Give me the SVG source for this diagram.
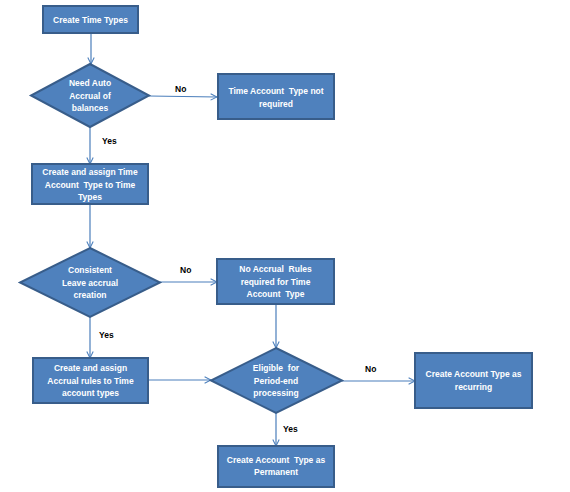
<svg xmlns="http://www.w3.org/2000/svg" width="570" height="492" viewBox="0 0 570 492" xml:space="preserve">
<defs>
<marker id="arr" viewBox="0 0 10 10" refX="9" refY="5" markerWidth="8" markerHeight="8" markerUnits="userSpaceOnUse" orient="auto">
<path d="M1,1 L9,5 L1,9" fill="none" stroke="#4A7EBB" stroke-width="1.3"/>
</marker>
<style>
.n{fill:#4F81BD;stroke:#385D8A;stroke-width:2}
.t{font-family:"Liberation Sans",Arial,sans-serif;font-size:8.5px;font-weight:bold;fill:#FFFFFF;text-anchor:middle;white-space:pre}
.l{font-family:"Liberation Sans",Arial,sans-serif;font-size:8.5px;font-weight:bold;fill:#000000}
.c{fill:none;stroke:#4A7EBB;stroke-width:1.2;marker-end:url(#arr)}
</style>
</defs>
<rect width="570" height="492" fill="#FFFFFF"/>
<g id="connectors">
<line class="c" x1="91" y1="33" x2="91" y2="64"/>
<line class="c" x1="149" y1="96" x2="217" y2="97"/>
<line class="c" x1="90" y1="127" x2="90" y2="164"/>
<line class="c" x1="90" y1="204" x2="90" y2="248"/>
<line class="c" x1="160" y1="282" x2="217" y2="282"/>
<line class="c" x1="276" y1="304" x2="276" y2="348"/>
<line class="c" x1="90" y1="317" x2="90" y2="358"/>
<line class="c" x1="148" y1="380" x2="211" y2="380"/>
<line class="c" x1="342" y1="381" x2="415" y2="381"/>
<line class="c" x1="276" y1="413" x2="276" y2="446"/>
<text class="l" x="175" y="92">No</text>
<text class="l" x="102" y="144">Yes</text>
<text class="l" x="180" y="273">No</text>
<text class="l" x="99" y="338">Yes</text>
<text class="l" x="365" y="372">No</text>
<text class="l" x="283" y="432">Yes</text>
</g>
<g id="n1">
<rect class="n" x="43" y="6" width="95" height="27"/>
<text class="t" x="90.5" y="22.5">Create Time Types</text>
</g>
<g id="n2">
<polygon class="n" points="90,64 149,95.5 90,127 31,95.5"/>
<text class="t" x="90" y="86">Need Auto</text>
<text class="t" x="90" y="99">Accrual of</text>
<text class="t" x="90" y="111">balances</text>
</g>
<g id="n3">
<rect class="n" x="218" y="74" width="116" height="45"/>
<text class="t" x="276" y="94">Time Account  Type not</text>
<text class="t" x="276" y="107">required</text>
</g>
<g id="n4">
<rect class="n" x="32" y="164" width="116" height="40"/>
<text class="t" x="90" y="175">Create and assign Time</text>
<text class="t" x="90" y="188">Account  Type to Time</text>
<text class="t" x="90" y="200">Types</text>
</g>
<g id="n5">
<polygon class="n" points="90,248 160,282.5 90,317 20,282.5"/>
<text class="t" x="90" y="273">Consistent</text>
<text class="t" x="90" y="286">Leave accrual</text>
<text class="t" x="90" y="298">creation</text>
</g>
<g id="n6">
<rect class="n" x="217" y="259" width="117" height="45"/>
<text class="t" x="275.5" y="272">No Accrual  Rules</text>
<text class="t" x="275.5" y="285">required for Time</text>
<text class="t" x="275.5" y="297">Account  Type</text>
</g>
<g id="n7">
<rect class="n" x="33" y="358" width="115" height="45"/>
<text class="t" x="90.5" y="371">Create and assign</text>
<text class="t" x="90.5" y="384">Accrual rules to Time</text>
<text class="t" x="90.5" y="396">account types</text>
</g>
<g id="n8">
<polygon class="n" points="276,348 342,380.5 276,413 211,380.5"/>
<text class="t" x="276" y="371">Eligible  for</text>
<text class="t" x="276" y="384">Period-end</text>
<text class="t" x="276" y="396">processing</text>
</g>
<g id="n9">
<rect class="n" x="415" y="353" width="117" height="55"/>
<text class="t" x="473.5" y="377">Create Account Type as</text>
<text class="t" x="473.5" y="390">recurring</text>
</g>
<g id="n10">
<rect class="n" x="218" y="446" width="116" height="41"/>
<text class="t" x="276" y="463">Create Account  Type as</text>
<text class="t" x="276" y="475">Permanent</text>
</g>
</svg>
